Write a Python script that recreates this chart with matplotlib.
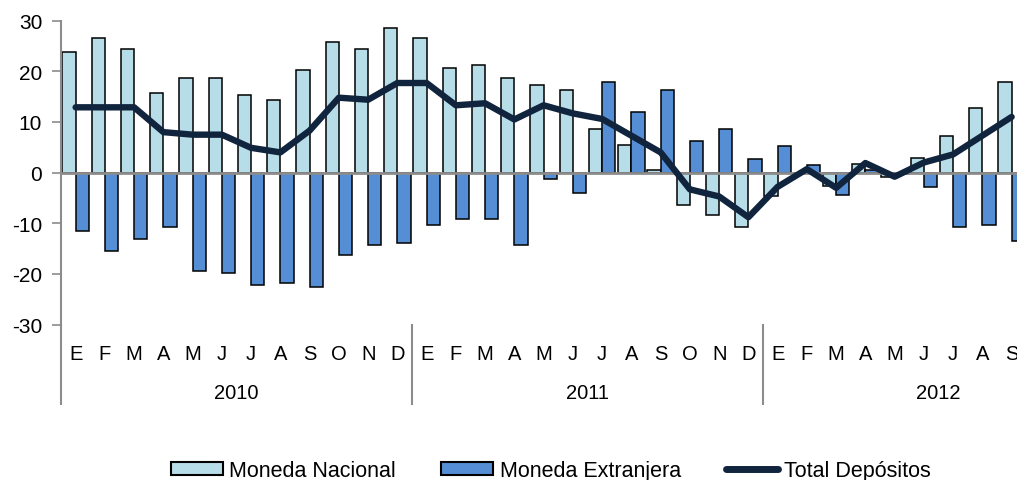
import matplotlib
matplotlib.use("Agg")
import matplotlib.pyplot as plt
from matplotlib.lines import Line2D
from matplotlib.patches import Patch
import numpy as np

months = ["E", "F", "M", "A", "M", "J", "J", "A", "S", "O", "N", "D"] * 2 + ["E", "F", "M", "A", "M", "J", "J", "A", "S"]
years = ["2010", "2011", "2012"]
year_lengths = [12, 12, 9]

moneda_nacional = [23.8, 26.5, 24.5, 15.8, 18.6, 18.6, 15.4, 14.3, 20.2, 25.8, 24.5, 28.5,
                   26.5, 20.6, 21.3, 18.6, 17.4, 16.3, 8.7, 5.5, 0.5, -6.3, -8.3, -10.7,
                   -4.7, 0.0, -2.6, 1.8, -0.8, 2.8, 7.2, 12.7, 17.8]
moneda_extranjera = [-11.5, -15.5, -13.1, -10.7, -19.5, -19.9, -22.2, -21.8, -22.5, -16.3, -14.3, -13.9,
                     -10.3, -9.1, -9.1, -14.3, -1.2, -4.0, 17.8, 11.9, 16.3, 6.3, 8.7, 2.6,
                     5.3, 1.5, -4.5, 0.5, -0.3, -2.8, -10.7, -10.3, -13.5]
total_depositos = [12.9, 12.9, 12.9, 8.0, 7.5, 7.5, 4.9, 4.0, 8.3, 14.8, 14.4, 17.7,
                   17.7, 13.3, 13.7, 10.5, 13.3, 11.7, 10.6, 7.3, 4.0, -3.3, -4.7, -8.8,
                   -2.8, 0.7, -3.0, 1.9, -0.8, 2.0, 3.6, 7.3, 11.0]

c_mn = "#B7DEE8"
c_me = "#558ED5"
c_tot = "#10243E"
gray = "#8C8C8C"

fig = plt.figure(figsize=(10.17, 4.81), dpi=100)
W, H = 1017, 481
ax = fig.add_axes([61 / W, 1 - 325.6 / H, 1 - 61 / W, (325.6 - 21.7) / H])

x = np.arange(len(months))
bw = 0.45
ax.bar(x - 0.225, moneda_nacional, width=bw, color=c_mn, edgecolor="black", linewidth=1.1, zorder=2)
ax.bar(x + 0.225, moneda_extranjera, width=bw, color=c_me, edgecolor="black", linewidth=1.1, zorder=2)
ax.axhline(0, color=gray, linewidth=2, zorder=3)
ax.plot(x, total_depositos, color=c_tot, linewidth=4.6, solid_joinstyle="round", solid_capstyle="round", zorder=4)

ax.set_xlim(-0.5, -0.5 + (W - 61) / 29.25)
ax.set_ylim(-30, 30)
ax.set_yticks([-30, -20, -10, 0, 10, 20, 30])
ax.set_yticklabels(["-30", "-20", "-10", "0", "10", "20", "30"], fontfamily="Liberation Sans", fontsize=15)
ax.tick_params(axis="y", direction="out", length=6.5, width=1.2, color=gray, pad=7)
ax.set_xticks([])
for s in ["top", "right", "bottom"]:
    ax.spines[s].set_visible(False)
ax.spines["left"].set_color(gray)
ax.spines["left"].set_linewidth(1.5)

trans = ax.get_xaxis_transform()
# extend left spine and year separators into category area
ybot = -(405 - 325.6) / (325.6 - 21.7)
ax.plot([-0.5, -0.5], [0, ybot], transform=trans, color=gray, linewidth=1.5, clip_on=False)
start = 0
for n in year_lengths[:-1]:
    start += n
    ax.plot([start - 0.5, start - 0.5], [0, ybot], transform=trans, color=gray, linewidth=1.5, clip_on=False)

ymonth = -(355 - 325.6) / (325.6 - 21.7)
yyear = -(394 - 325.6) / (325.6 - 21.7)
for i, m in enumerate(months):
    ax.text(i, ymonth, m, transform=trans, ha="center", va="center", fontsize=14.5,
            family="Liberation Sans", clip_on=False)
start = 0
for yr, n in zip(years, year_lengths):
    ax.text(start + 5.5, yyear, yr, transform=trans, ha="center", va="center", fontsize=14.5,
            family="Liberation Sans", clip_on=False)
    start += n

handles = [Patch(facecolor=c_mn, edgecolor="black", linewidth=1.5),
           Patch(facecolor=c_me, edgecolor="black", linewidth=1.5),
           Line2D([0], [0], color=c_tot, linewidth=5, solid_capstyle="round")]
labels = ["Moneda Nacional", "Moneda Extranjera", "Total Depósitos"]
fig.legend(handles, labels, loc="center", bbox_to_anchor=(551 / W, 9 / H), ncol=3, frameon=False,
           prop={"family": "Liberation Sans", "size": 15.5},
           handlelength=2.4, handleheight=0.55, handletextpad=0.3, columnspacing=2.1)

fig.savefig("out.png", dpi=100)
